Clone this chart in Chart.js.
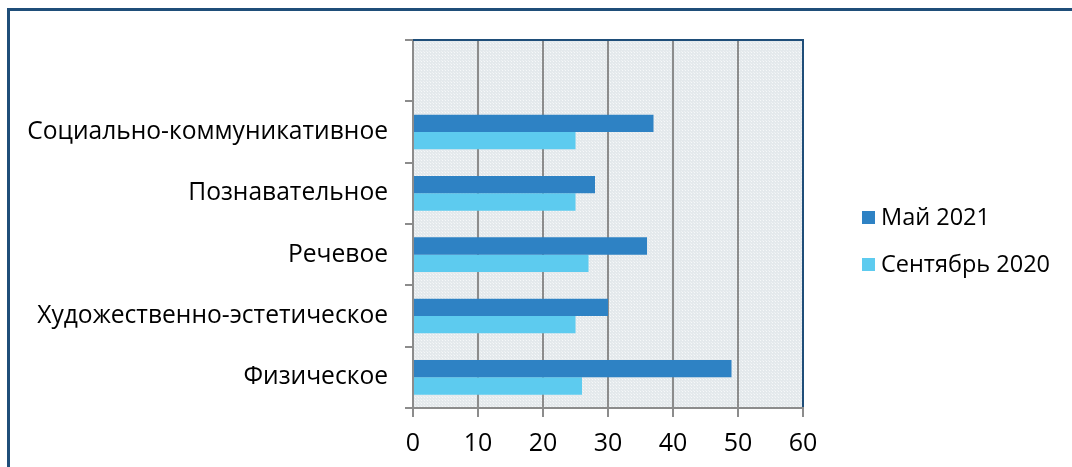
<!DOCTYPE html>
<html>
<head>
<meta charset="utf-8">
<script src="https://cdn.jsdelivr.net/npm/chart.js@4/dist/chart.umd.min.js"></script>
<style>
  html, body { margin: 0; padding: 0; background: #ffffff; overflow: hidden; }
  #wrap { position: relative; width: 1072px; height: 467px; }
  #frame { position: absolute; left: 7px; top: 8px; width: 1100px; height: 500px;
           border-left: 3px solid #1F4E79; border-top: 3px solid #1F4E79; box-sizing: border-box; }
  canvas { position: absolute; left: 0; top: 0; }
</style>
</head>
<body>
<div id="wrap">
  <div id="frame"></div>
  <canvas id="c" width="1072" height="467"></canvas>
</div>
<script>
const categories = ['', 'Социально-коммуникативное', 'Познавательное', 'Речевое', 'Художественно-эстетическое', 'Физическое'];
const seriesNames = ['Май 2021', 'Сентябрь 2020'];
const may2021 = [null, 37, 28, 36, 30, 49];
const sep2020 = [null, 25, 25, 27, 25, 26];
const xTicks = [0, 10, 20, 30, 40, 50, 60];

const FONT = '"Open Sans", "Noto Sans", sans-serif';
const FS_Y = 24.6;
const FS_X = 25;
const FS_LEG = 23.5;

function makePattern(ctx) {
  const t = document.createElement('canvas');
  t.width = 3; t.height = 3;
  const g = t.getContext('2d');
  g.fillStyle = '#e4e9ec';
  g.fillRect(0, 0, 3, 3);
  g.fillStyle = '#f6f8f9';
  g.fillRect(1, 1, 1, 1);
  g.fillStyle = '#eef1f3';
  g.fillRect(0, 0, 1, 1);
  return ctx.createPattern(t, 'repeat');
}

const plotDeco = {
  id: 'plotDeco',
  beforeDraw(chart) {
    const {ctx, chartArea: a} = chart;
    ctx.save();
    ctx.fillStyle = makePattern(ctx);
    ctx.fillRect(a.left, a.top, a.right - a.left, a.bottom - a.top);
    ctx.restore();
  },
  beforeDatasetsDraw(chart) {
    const {ctx, chartArea: a} = chart;
    ctx.save();
    ctx.strokeStyle = '#1F4E79';
    ctx.lineWidth = 2;
    ctx.beginPath();
    ctx.moveTo(a.left, a.top);
    ctx.lineTo(a.right, a.top);
    ctx.lineTo(a.right, a.bottom - 1);
    ctx.stroke();
    ctx.restore();
  },
  afterDraw(chart) {
    const {ctx} = chart;
    ctx.save();
    ctx.font = FS_LEG + 'px ' + FONT;
    ctx.textBaseline = 'middle';
    ctx.textAlign = 'left';
    chart.data.datasets.forEach((ds, i) => {
      const y = 218 + 47 * i;
      ctx.fillStyle = ds.backgroundColor;
      ctx.fillRect(862, y - 7, 13, 13);
      ctx.fillStyle = '#000';
      ctx.fillText(ds.label, 881, y);
    });
    ctx.restore();
  }
};

new Chart(document.getElementById('c'), {
  type: 'bar',
  data: {
    labels: categories,
    datasets: [
      { label: seriesNames[0], data: may2021, backgroundColor: '#2E82C4', borderWidth: 0 },
      { label: seriesNames[1], data: sep2020, backgroundColor: '#5DCBEF', borderWidth: 0 }
    ]
  },
  options: {
    indexAxis: 'y',
    responsive: false,
    animation: false,
    devicePixelRatio: 1,
    categoryPercentage: 0.565,
    barPercentage: 1.0,
    layout: { padding: { left: 0, top: 40, right: 269, bottom: 0 } },
    plugins: { legend: { display: false }, tooltip: { enabled: false } },
    scales: {
      x: {
        min: 0, max: 60,
        afterBuildTicks(scale) { scale.ticks = xTicks.map(v => ({ value: v })); },
        afterFit(scale) { scale.height = 59; },
        grid: { color: '#8c8c8c', lineWidth: 2, tickLength: 9, drawOnChartArea: true },
        border: { color: '#8c8c8c', width: 2 },
        ticks: { color: '#000', font: { family: FONT, size: FS_X }, padding: 12 }
      },
      y: {
        afterFit(scale) { scale.width = 413; },
        grid: { color: '#8c8c8c', lineWidth: 2, tickLength: 8, drawOnChartArea: false, offset: true },
        border: { color: '#8c8c8c', width: 2 },
        ticks: { color: '#000', font: { family: FONT, size: FS_Y }, padding: 17 }
      }
    }
  },
  plugins: [plotDeco]
});
</script>
</body>
</html>
